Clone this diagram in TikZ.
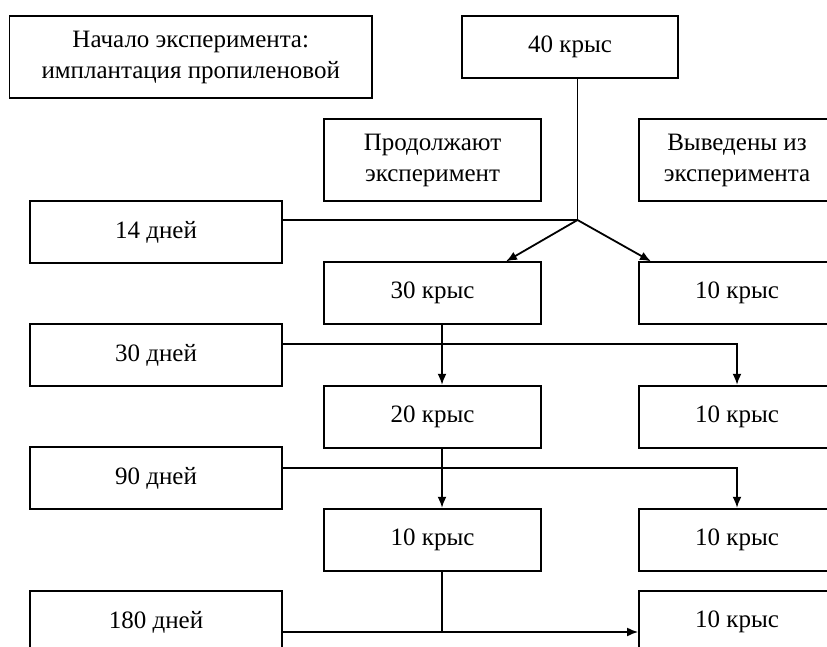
\documentclass[tikz,border=0pt]{standalone}
\usepackage{fontspec}
\setmainfont{Liberation Serif}
\usetikzlibrary{arrows.meta}
\begin{document}
\begin{tikzpicture}[x=1pt, y=-1pt,
    box/.style={draw, line width=1.8pt, minimum height=62pt, inner sep=0pt, align=center, font=\fontsize{25}{31}\selectfont},
    link/.style={line width=1.8pt},
    arr/.style={line width=1.8pt, -{Latex[length=11pt,width=9pt]}}]
            \clip (0,0) rectangle (827,647);
            \fill[white] (0,0) rectangle (827,647);

            \node[box, minimum width=362.5, minimum height=82.6] (start) at (190.75,57) {Начало эксперимента:\\имплантация пропиленовой};
            \node[box, minimum width=216] (top) at (570,47) {40 крыс};
            \node[box, minimum width=217, minimum height=82] (cont) at (432.5,160) {Продолжают\\эксперимент};
            \node[box, minimum width=196, minimum height=82] (out) at (737,160) {Выведены из\\эксперимента};

            \foreach \d/\y in {14/232, 30/355, 90/478, 180/622} {
            \node[box, minimum width=252.5] (d\d) at (156,\y) {\d\ дней};
            }
            \foreach \n/\k/\y in {1/30/293.3, 2/20/416.7, 3/10/539.7} {
            \node[box, minimum width=217] (c\n) at (432.5,\y) {\k\ крыс};
            }
            \foreach \n/\y in {1/293.3, 2/416.7, 3/539.7, 4/622} {
            \node[box, minimum width=196] (r\n) at (737,\y) {10 крыс};
            }

            \coordinate (split) at (577.5,220);
            \draw[link] (top.south -| split) -- (split);
            \draw[link] (d14.east |- split) -- (split);
            \draw[arr] (split) -- ([xshift=73.5]c1.north);
            \draw[arr] (split) -- ([xshift=-86]r1.north);

            \draw[arr] ([xshift=9.5]c1.south) -- ([xshift=9.5]c2.north);
            \draw[arr] ([yshift=11]d30.east) -| (r2.north);
            \draw[arr] ([xshift=9.5]c2.south) -- ([xshift=9.5]c3.north);
            \draw[arr] ([yshift=10]d90.east) -| (r3.north);

            \coordinate (m180) at ([yshift=-10]d180.east);
            \coordinate (v3) at ([xshift=9.5]c3.south);
            \draw[arr] (m180) -- (m180 -| r4.west);
            \draw[link] (v3) -- (v3 |- m180);
        \end{tikzpicture}
\end{document}
